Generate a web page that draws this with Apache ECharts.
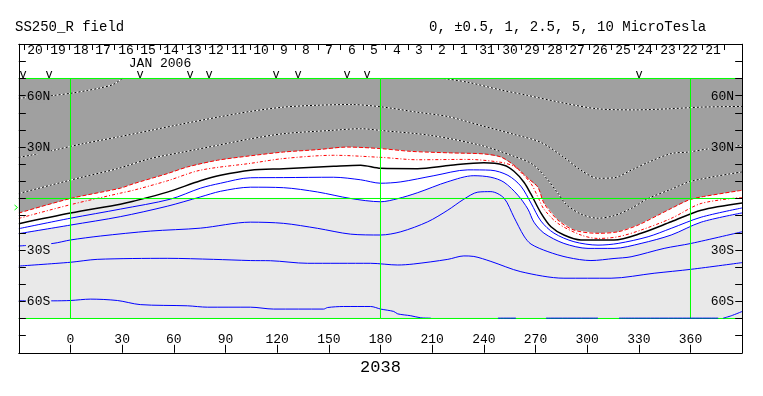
<!DOCTYPE html>
<html>
<head>
<meta charset="utf-8">
<script src="https://cdn.jsdelivr.net/npm/echarts/dist/echarts.min.js"></script>
<style>
html, body { margin: 0; padding: 0; background: #fff; }
#chart { width: 763px; height: 396px; }
</style>
</head>
<body>
<div id="chart"></div>
<script>
// 坐标范围 (经度 / 纬度)
var lonMin = -30, lonMax = 390, latMin = -90, latMax = 90, plotLat = 70;

// 刻度标签
var lonTickLabels = [0, 30, 60, 90, 120, 150, 180, 210, 240, 270, 300, 330, 360];
var latTickLabels = { '60': '60N', '30': '30N', '-30': '30S', '-60': '60S' };
var rotation = '2038';
var monthLabel = 'JAN 2006';

// 顶部日期栏
var dayNames = [20, 19, 18, 17, 16, 15, 14, 13, 12, 11, 10, 9, 8, 7, 6, 5, 4, 3, 2, 1, 31, 30, 29, 28, 27, 26, 25, 24, 23, 22, 21];
var dayEdges = [-26.9, -13.8, -0.7, 12.4, 25.5, 38.6, 51.8, 64.9, 78.0, 91.1, 104.2, 117.3, 130.4, 143.5, 156.6, 169.8,
                182.9, 196.0, 209.1, 222.2, 235.3, 248.4, 261.5, 274.6, 287.7, 300.9, 314.0, 327.1, 340.2, 353.3, 366.4, 379.5];
var obsLon = [-27.3, -12.2, 40.5, 69.2, 80.3, 119.6, 132.3, 160.8, 172.4, 330.2];
var earthLat = -4.8;

// 绿色参考线
var meridians = [0, 180, 360];
var parallels = [0, plotLat, -plotLat];

// 等值线 (经度, 纬度)
var pos10a = [[-30,58.5],[-10.1,60.1],[1.6,61.6],[9.7,63.0],[17.3,64.5],[24.8,66.5],[30.1,70]];
var pos10b = [[216.8,70],[230.7,67.8],[249.9,63.3],[265.6,60.1],[288.8,55.2],[306.3,52.3],[327.3,51.7],[347.0,52.3],[366.2,53.3],[390,53.7]];
var pos5 = [[-30,24.0],[-23.4,25.2],[-10.1,28.1],[7.4,32.0],[27.2,35.8],[46.4,39.7],[65.5,43.6],[85.3,47.4],[104.5,50.8],[123.7,53.3],
            [143.4,54.4],[162.7,54.8],[180.1,53.5],[201.6,50.3],[219.1,47.8],[238.3,42.6],[257.5,37.4],[273.2,32.7],[286.5,24.0],
            [296.4,16.5],[306.3,11.8],[315.6,12.1],[325.5,16.5],[335.4,21.1],[348.8,26.2],[358.7,27.1],[371.5,29.1],[390,31.0]];
var pos2_5 = [[-30,2.9],[-11.8,7.7],[7.4,12.6],[27.2,17.4],[46.4,23.3],[65.5,27.1],[85.3,31.0],[104.5,34.8],[123.7,37.8],[151.0,39.7],
              [168.5,40.7],[180.1,39.7],[209.2,36.8],[238.3,31.0],[255.8,25.2],[267.4,20.5],[274.9,13.5],[283.0,3.1],[287.7,-3.3],
              [296.4,-9.1],[306.3,-11.5],[315.6,-10.0],[325.5,-5.8],[335.4,0],[348.8,5.4],[360.4,10.1],[390,15.5]];
var pos1 = [[-30,-8.5],[0,0],[28.9,6.0],[36.5,8.6],[56.2,14.5],[67.9,18.4],[85.3,22.3],[104.5,24.9],[123.7,27.1],[143.4,28.5],
            [160.9,30.0],[180.1,29.1],[197.6,27.5],[220.8,26.6],[240.0,26.0],[249.9,24.2],[257.5,19.4],[265.6,11.8],[271.4,6.6],
            [274.9,-2.7],[283.0,-12.6],[292.3,-18.4],[306.3,-20.3],[318.0,-19.4],[329.6,-15.5],[341.2,-9.7],[348.8,-5.8],
            [358.7,-1.0],[366.2,0.9],[390,4.8]];
var pos0_5 = [[-30,-11.6],[0,-3.6],[28.9,3.1],[36.5,4.8],[56.2,10.3],[75.4,16.5],[104.5,20.5],[123.7,23.3],[152.8,25.2],[180.1,24.0],
              [201.6,22.6],[230.7,22.8],[249.9,21.1],[257.5,18.8],[261.5,15.3],[267.4,8.7],[271.4,0.9],[274.9,-6.2],[283.0,-14.5],
              [296.4,-21.3],[306.3,-23.3],[318.0,-22.3],[331.3,-18.4],[348.8,-11.6],[366.2,-2.9],[390,0.6]];
var neutral = [[-30,-14.7],[0,-8.5],[28.9,-3.3],[36.5,-1.6],[56.2,3.7],[75.4,10.3],[87.1,13.5],[104.5,16.5],[123.7,17.4],[152.8,18.8],
               [168.5,19.4],[180.1,17.6],[201.6,17.4],[220.8,19.4],[240.0,20.8],[251.7,19.4],[257.5,15.9],[263.3,9.5],[267.4,2.5],
               [273.2,-8.5],[279.0,-16.5],[286.5,-21.3],[296.4,-24.2],[315.6,-24.2],[331.3,-20.3],[348.8,-13.6],[366.2,-6.8],[390,-2.6]];
var neg0_5 = [[-30,-17.6],[0,-11.5],[28.9,-6.2],[58.0,-0.4],[75.4,6.0],[87.1,8.9],[104.5,12.1],[123.7,12.2],[152.8,12.4],[168.5,10.9],
              [180.1,8.9],[191.8,9.7],[211.0,13.3],[230.7,16.7],[244.1,16.5],[254.0,13.5],[261.5,7.2],[267.4,-2.7],[273.2,-13.2],
              [280.7,-20.2],[292.3,-25.2],[306.3,-27.2],[318.0,-26.2],[335.4,-22.3],[348.8,-17.4],[366.2,-10.9],[390,-5.5]];
var neg1 = [[-30,-20.5],[0,-15.5],[28.9,-10.6],[56.2,-4.5],[75.4,0.9],[87.1,4.2],[104.5,6.6],[123.7,6.3],[143.4,3.8],[162.7,0],
            [180.1,-1.9],[190.0,-0.1],[201.6,3.4],[219.1,9.8],[234.2,13.3],[244.1,12.4],[251.7,9.5],[259.8,1.9],[265.6,-6.2],
            [269.1,-13.8],[274.9,-20.2],[286.5,-26.2],[300.5,-29.1],[315.6,-29.1],[331.3,-26.2],[348.8,-21.3],[366.2,-13.8],[390,-8.4]];
var neg2_5 = [[-30,-27.7],[-10.1,-26.2],[0,-24.2],[17.3,-21.9],[46.4,-19.0],[75.4,-17.3],[104.5,-13.8],[123.7,-14.5],[143.4,-17.4],
              [162.7,-20.8],[180.1,-21.3],[191.8,-19.4],[207.4,-13.6],[219.1,-6.8],[228.4,-0.4],[236.5,3.7],[244.1,4.0],[251.7,0.2],
              [257.5,-10.9],[263.3,-21.9],[267.4,-26.6],[277.2,-31.0],[288.8,-34.4],[302.2,-36.2],[315.6,-35.0],[325.5,-34.0],
              [344.7,-29.1],[360.4,-26.2],[390,-19.4]];
var neg5 = [[-30,-39.4],[0,-37.2],[15.5,-35.5],[56.2,-34.9],[83.0,-35.5],[104.5,-36.2],[116.1,-36.3],[137.6,-37.8],[174.3,-37.8],
            [190.0,-38.8],[199.3,-38.2],[219.1,-35.5],[228.4,-33.5],[234.2,-33.8],[244.1,-36.7],[261.5,-42.7],[286.5,-46.5],
            [313.9,-46.5],[338.9,-43.6],[360.4,-41.3],[390,-37.4]];
var neg10 = [[-30,-59.7],[-10.1,-59.7],[0,-59.5],[11.5,-58.7],[27.2,-59.5],[40.5,-61.9],[67.9,-62.6],[79.5,-63.4],[104.5,-63.4],
             [117.9,-64.5],[147.0,-64.5],[149.3,-63.6],[158.6,-63.0],[174.3,-63.0],[180.1,-64.5],[187.7,-65.9],[190.0,-67.3],
             [197.6,-68.4],[203.4,-69.6],[209.2,-69.8]];
var neg10Edge = [
  [[248.2,-69.8],[258.6,-69.8]],
  [[276.1,-69.8],[306.3,-69.8]],
  [[318.5,-69.8],[376.1,-69.8]],
  [[379.0,-69.8],[383.7,-68.4],[390,-65.9]]
];
// 白色区域下边界
var whiteEdge = [[-30,-20.5],[0,-15.5],[0,0],[162.7,0],[180.1,-1.9],[190.0,-0.1],[201.6,3.4],[219.1,9.8],[234.2,13.3],[244.1,12.4],
                 [251.7,9.5],[259.8,1.9],[265.6,-6.2],[269.1,-13.8],[274.9,-20.2],[286.5,-26.2],[300.5,-29.1],[315.6,-29.1],
                 [331.3,-26.2],[348.8,-21.3],[366.2,-13.8],[390,-8.4]];

var darkGray = '#a0a0a0', lightGray = '#e9e9e9', green = '#00ff00', red = '#ff0000', blue = '#0000ff';
var mono = '"Liberation Mono", "DejaVu Sans Mono", monospace';

var chart = echarts.init(document.getElementById('chart'));

// 填充多边形
function fillSeries(points, color) {
  return {
    type: 'custom', silent: true, z: 1,
    data: [[points[0][0], points[0][1]]],
    renderItem: function (params, api) {
      return {
        type: 'polygon',
        shape: { points: points.map(function (p) { return api.coord(p); }) },
        style: { fill: color }
      };
    }
  };
}

// 等值线
function contour(points, color, width, dash, z, smooth) {
  return {
    type: 'line', data: points, symbol: 'none', smooth: smooth === undefined ? 0.3 : smooth, silent: true, z: z || 3,
    lineStyle: { color: color, width: width, type: dash || 'solid' }
  };
}

// 文字
function textSeries(items, size, color) {
  return {
    type: 'custom', silent: true, z: 6,
    data: items.map(function (it) { return [it[0], it[1]]; }),
    renderItem: function (params, api) {
      var p = api.coord([api.value(0), api.value(1)]);
      return {
        type: 'text', x: Math.round(p[0]), y: Math.round(p[1]),
        style: {
          text: String(items[params.dataIndex][2]), fill: color,
          font: size + 'px ' + mono,
          align: 'center', verticalAlign: 'middle', textAlign: 'center', textVerticalAlign: 'middle'
        }
      };
    }
  };
}

var plotBox = [[lonMin, -plotLat], [lonMax, -plotLat], [lonMax, plotLat], [lonMin, plotLat]];
var whitePoly = whiteEdge.concat([[lonMax, plotLat], [lonMin, plotLat]]);
var darkPoly = pos1.concat([[lonMax, plotLat], [lonMin, plotLat]]);

var series = [
  fillSeries(plotBox, lightGray),
  fillSeries(whitePoly, '#ffffff'),
  fillSeries(darkPoly, darkGray),

  contour(pos10a, '#ffffff', 1), contour(pos10a, '#000', 1, [2, 2]),
  contour(pos10b, '#ffffff', 1), contour(pos10b, '#000', 1, [2, 2]),
  contour(pos5, '#ffffff', 1), contour(pos5, '#000', 1, [2, 2]),
  contour(pos2_5, '#ffffff', 1), contour(pos2_5, '#000', 1, [2, 2]),
  contour(pos1, red, 1, [4, 2]),
  contour(pos0_5, red, 1, [3, 2, 1, 2]),
  contour(neutral, '#000', 1.5),
  contour(neg0_5, blue, 1),
  contour(neg1, blue, 1),
  contour(neg2_5, blue, 1),
  contour(neg5, blue, 1),
  contour(neg10, blue, 1),

  // 日期分隔
  {
    type: 'custom', silent: true, z: 6,
    data: dayEdges.map(function (v) { return [v, latMax]; }),
    renderItem: function (params, api) {
      var a = api.coord([api.value(0), latMax]);
      var b = api.coord([api.value(0), 86.6]);
      var x = Math.round(a[0]) + 0.5;
      return { type: 'line', shape: { x1: x, y1: a[1], x2: x, y2: b[1] }, style: { stroke: '#000', lineWidth: 1 } };
    }
  },
  textSeries(dayNames.map(function (d, i) { return [(dayEdges[i] + dayEdges[i + 1]) / 2, 85.75, d]; }), 13, '#000'),
  textSeries([[52.2, 78.6, monthLabel]], 13, '#000'),
  textSeries(obsLon.map(function (l) { return [l, 72.0, 'v']; }), 12, '#000'),

  // 地球纬度标记
  {
    type: 'custom', silent: true, z: 6,
    data: [[lonMin, earthLat]],
    renderItem: function (params, api) {
      var p = api.coord([lonMin, earthLat]);
      var x = Math.round(p[0]), y = Math.round(p[1]) + 0.5;
      return { type: 'polyline', shape: { points: [[x - 4.5, y - 2.5], [x - 1.5, y], [x - 4.5, y + 2.5]] }, style: { stroke: green, lineWidth: 1, fill: null } };
    }
  }
];
// 绿线
parallels.forEach(function (lat) { series.push(contour([[lonMin, lat], [lonMax, lat]], green, 1, 'solid', 4, false)); });
meridians.forEach(function (lon) { series.push(contour([[lon, -plotLat], [lon, plotLat]], green, 1, 'solid', 4, false)); });
neg10Edge.forEach(function (seg) { series.push(contour(seg, blue, 1, 'solid', 5)); });

function latFormatter(v) {
  var t = latTickLabels[String(v)];
  if (!t) return '';
  return '{' + (v > 0 ? 'n' : 's') + '|' + t + '}';
}
var latRich = {
  n: { backgroundColor: darkGray, color: '#000', fontFamily: mono, fontSize: 13, padding: [1, 1, 0, 1] },
  s: { backgroundColor: lightGray, color: '#000', fontFamily: mono, fontSize: 13, padding: [1, 1, 0, 1] }
};
function yAxisDef(pos) {
  return {
    type: 'value', position: pos, min: latMin, max: latMax, interval: 10, z: 8,
    axisLine: { show: true, onZero: false, lineStyle: { color: '#000', width: 1 } },
    axisTick: { show: true, inside: true, length: 7, lineStyle: { color: '#000' } },
    axisLabel: { inside: true, margin: 7, formatter: latFormatter, rich: latRich },
    splitLine: { show: false }
  };
}

var titleStyle = { fontFamily: mono, fontSize: 14, fontWeight: 'normal', color: '#000' };
var option = {
  animation: false,
  backgroundColor: '#ffffff',
  title: [
    { text: 'SS250_R field', left: 15, top: 20, padding: 0, textStyle: titleStyle },
    { text: '0, ±0.5, 1, 2.5, 5, 10 MicroTesla', left: 429, top: 20, padding: 0, textStyle: titleStyle }
  ],
  grid: { left: 18.83, top: 44.21, width: 723.33, height: 308.57 },
  xAxis: [{
    type: 'value', position: 'bottom', min: lonMin, max: lonMax, interval: 30, z: 8,
    name: rotation, nameLocation: 'middle', nameGap: 4,
    nameTextStyle: { fontFamily: mono, fontSize: 17, color: '#000', verticalAlign: 'top' },
    axisLine: { onZero: false, lineStyle: { color: '#000', width: 1 } },
    axisTick: { inside: true, length: 8, lineStyle: { color: '#000' } },
    axisLabel: {
      inside: true, margin: 7, color: '#000', fontFamily: mono, fontSize: 13,
      formatter: function (v) { return lonTickLabels.indexOf(v) >= 0 ? String(v) : ''; }
    },
    splitLine: { show: false }
  }, {
    type: 'value', position: 'top', min: lonMin, max: lonMax, z: 8,
    axisLine: { onZero: false, lineStyle: { color: '#000', width: 1 } },
    axisTick: { show: false }, axisLabel: { show: false }, splitLine: { show: false }
  }],
  yAxis: [yAxisDef('left'), yAxisDef('right')],
  series: series
};

chart.setOption(option);
</script>
</body>
</html>
